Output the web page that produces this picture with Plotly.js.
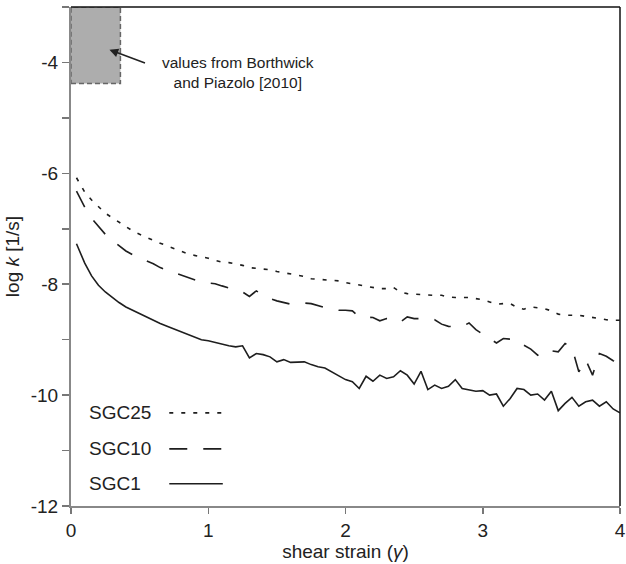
<!DOCTYPE html>
<html>
<head>
<meta charset="utf-8">
<script src="https://cdn.plot.ly/plotly-3.0.1.min.js"></script>
<style>html,body{margin:0;padding:0;background:#fff;}#chart{width:626px;height:564px;}</style>
</head>
<body>
<div id="chart"></div>
<script>
const strain = [0.04,0.10,0.15,0.20,0.25,0.30,0.35,0.40,0.45,0.50,0.55,0.60,0.65,0.70,0.75,0.80,0.85,0.90,0.95,1.00,
1.05,1.10,1.15,1.20,1.25,1.30,1.35,1.40,1.45,1.50,1.55,1.60,1.65,1.70,1.75,1.80,1.85,1.90,1.95,2.00,
2.05,2.10,2.15,2.20,2.25,2.30,2.35,2.40,2.45,2.50,2.55,2.60,2.65,2.70,2.75,2.80,2.85,2.90,2.95,3.00,
3.05,3.10,3.15,3.20,3.25,3.30,3.35,3.40,3.45,3.50,3.55,3.60,3.65,3.70,3.75,3.80,3.85,3.90,3.95,4.00];

const sgc25 = [-6.08,-6.34,-6.48,-6.60,-6.72,-6.80,-6.88,-6.96,-7.04,-7.10,-7.16,-7.21,-7.26,-7.31,-7.36,-7.41,-7.45,-7.48,-7.50,-7.53,
-7.57,-7.60,-7.61,-7.63,-7.66,-7.70,-7.71,-7.72,-7.74,-7.77,-7.79,-7.82,-7.84,-7.86,-7.90,-7.91,-7.91,-7.93,-7.94,-7.97,
-7.99,-8.02,-8.04,-8.06,-8.08,-8.08,-8.06,-8.14,-8.17,-8.18,-8.19,-8.19,-8.20,-8.20,-8.23,-8.24,-8.24,-8.24,-8.26,-8.28,
-8.32,-8.36,-8.35,-8.35,-8.42,-8.45,-8.41,-8.42,-8.44,-8.48,-8.54,-8.56,-8.56,-8.56,-8.58,-8.60,-8.63,-8.64,-8.65,-8.65];

const sgc10 = [-6.32,-6.61,-6.81,-6.95,-7.10,-7.21,-7.31,-7.40,-7.47,-7.53,-7.58,-7.63,-7.70,-7.75,-7.79,-7.83,-7.87,-7.92,-7.96,-7.98,
-7.99,-8.03,-8.07,-8.10,-8.14,-8.22,-8.12,-8.20,-8.26,-8.30,-8.33,-8.36,-8.35,-8.34,-8.35,-8.39,-8.42,-8.45,-8.47,-8.47,
-8.48,-8.59,-8.60,-8.60,-8.66,-8.62,-8.62,-8.68,-8.59,-8.62,-8.62,-8.62,-8.64,-8.72,-8.76,-8.77,-8.76,-8.70,-8.82,-8.90,
-8.98,-9.06,-8.98,-8.99,-9.00,-9.10,-9.17,-9.28,-9.18,-9.20,-9.22,-9.07,-9.14,-9.58,-9.36,-9.64,-9.25,-9.30,-9.38,-9.42];

const sgc1 = [-7.27,-7.62,-7.85,-8.02,-8.14,-8.24,-8.33,-8.41,-8.47,-8.53,-8.60,-8.66,-8.71,-8.76,-8.81,-8.85,-8.90,-8.96,-9.00,-9.02,
-9.05,-9.09,-9.11,-9.13,-9.11,-9.33,-9.25,-9.27,-9.31,-9.40,-9.36,-9.41,-9.41,-9.40,-9.45,-9.49,-9.51,-9.58,-9.65,-9.72,
-9.76,-9.88,-9.66,-9.75,-9.64,-9.70,-9.67,-9.56,-9.64,-9.80,-9.57,-9.90,-9.82,-9.88,-9.84,-9.72,-9.88,-9.90,-9.93,-9.92,
-10.00,-9.98,-10.20,-10.06,-9.88,-9.90,-10.00,-9.98,-10.09,-9.93,-10.28,-10.15,-10.04,-10.20,-10.12,-10.09,-10.20,-10.12,-10.25,-10.32];

const seriesNames = ["SGC25","SGC10","SGC1"];
const seriesDash = ["4px,8px","18px,16px","solid"];
const seriesData = [sgc25, sgc10, sgc1];

const yTicks = [-12,-11,-10,-9,-8,-7,-6,-5,-4,-3];
const yTickText = ["-12","","-10","","-8","","-6","","-4",""];
const xTicks = [0,1,2,3,4];
const xTickText = ["0","1","2","3","4"];

// Borthwick & Piazolo range box
const boxX = [0, 0.36];
const boxY = [-4.38, -3];

const FONT = "Liberation Sans, Arial, sans-serif";
const lineColor = "#1e1e1e";

const traces = seriesData.map((d, i) => ({
  x: strain, y: d, type: "scatter", mode: "lines", name: seriesNames[i],
  line: {color: lineColor, width: 1.6, dash: seriesDash[i]},
  showlegend: false, hoverinfo: "skip"
}));

// Legend (text on left, line sample on right)
const legY = [-10.32, -10.97, -11.60];
const legTextX = 0.12;
const legLineX = [0.716, 1.106];
const annotations = [];
const shapes = [];
seriesNames.forEach((n, i) => {
  annotations.push({x: legTextX, y: legY[i], xref: "x", yref: "y", text: n, showarrow: false,
    xanchor: "left", yanchor: "middle", font: {family: FONT, size: 19, color: "#222"}});
  shapes.push({type: "line", xref: "x", yref: "y", x0: legLineX[0], x1: legLineX[1], y0: legY[i], y1: legY[i],
    line: {color: lineColor, width: 1.6, dash: seriesDash[i]}});
});

shapes.unshift({type: "rect", xref: "x", yref: "y", x0: boxX[0], x1: boxX[1], y0: boxY[0], y1: boxY[1],
  fillcolor: "#adadad", line: {color: "#666", width: 1.5, dash: "5px,3px"}, layer: "below"});
// top and right frame
shapes.push({type: "line", xref: "paper", yref: "paper", x0: 0, x1: 1, y0: 1, y1: 1, line: {color: "#111", width: 1.5}});
shapes.push({type: "line", xref: "paper", yref: "paper", x0: 1, x1: 1, y0: 0, y1: 1, line: {color: "#111", width: 1.5}});

annotations.push({x: 0.28, y: -3.77, ax: 0.55, ay: -4.02, xref: "x", yref: "y", axref: "x", ayref: "y",
  text: "", showarrow: true, arrowhead: 2, arrowsize: 1.1, arrowwidth: 1.6, arrowcolor: "#222"});
annotations.push({x: 1.22, y: -4.18, xref: "x", yref: "y", showarrow: false,
  text: "values from Borthwick<br>and Piazolo [2010]", align: "center", xanchor: "center", yanchor: "middle",
  font: {family: FONT, size: 15.5, color: "#222"}});

const layout = {
  width: 626, height: 564,
  margin: {l: 71, r: 6, t: 7, b: 58},
  paper_bgcolor: "#fff", plot_bgcolor: "#fff",
  font: {family: FONT, color: "#222", size: 19},
  xaxis: {range: [0, 4], tickvals: xTicks, ticktext: xTickText, ticks: "outside", ticklen: 6, tickwidth: 1.5,
    tickcolor: "#777", showline: true, linecolor: "#888", linewidth: 2, showgrid: false, zeroline: false,
    ticklabeloverflow: "allow",
    tickfont: {family: FONT, size: 19, color: "#222"},
    title: {text: "shear strain (<i>γ</i>)", font: {family: FONT, size: 19, color: "#222"}, standoff: 2}},
  yaxis: {range: [-12, -3], tickvals: yTicks, ticktext: yTickText, ticks: "outside", ticklen: 7, tickwidth: 1.5,
    tickcolor: "#777", showline: true, linecolor: "#888", linewidth: 2, showgrid: false, zeroline: false,
    tickfont: {family: FONT, size: 19, color: "#222"},
    title: {text: "log <i>k</i> [1/s]", font: {family: FONT, size: 19, color: "#222"}, standoff: 6}},
  shapes: shapes,
  annotations: annotations
};

Plotly.newPlot("chart", traces, layout, {displayModeBar: false, staticPlot: true});
</script>
</body>
</html>
